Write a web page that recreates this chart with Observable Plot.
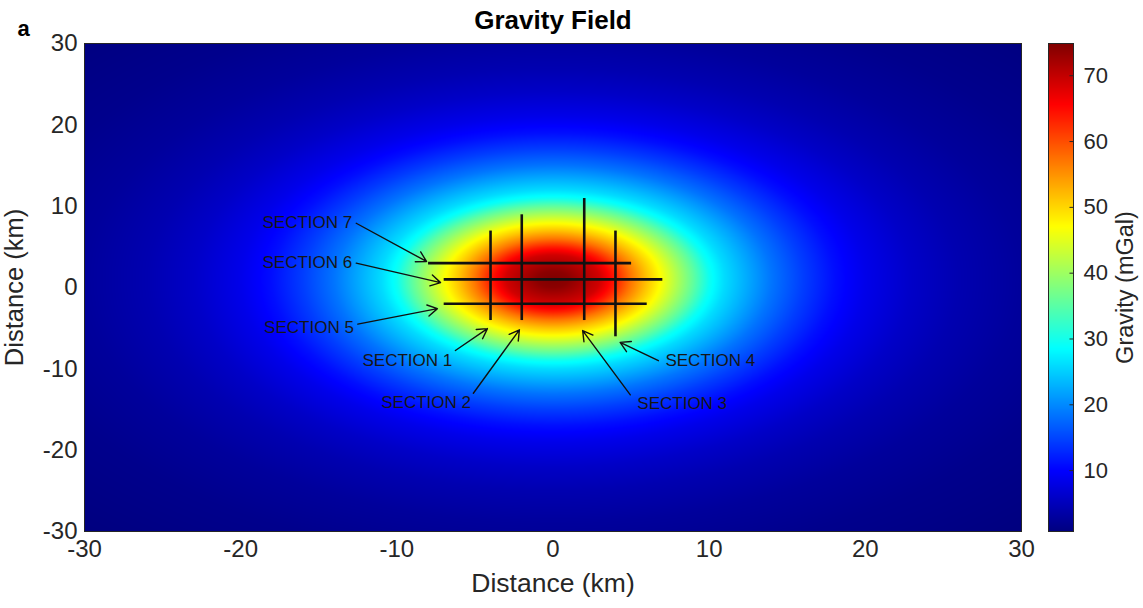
<!DOCTYPE html>
<html>
<head>
<meta charset="utf-8">
<script src="https://cdn.jsdelivr.net/npm/d3@7"></script>
<script src="https://cdn.jsdelivr.net/npm/@observablehq/plot@0.6"></script>
<style>
  body { margin: 0; background: #ffffff; }
  #chart { position: relative; width: 1143px; height: 608px; overflow: hidden; background: #ffffff; }
  #chart svg { position: absolute; top: 0; }
</style>
</head>
<body>
<div id="chart"></div>
<script>
// Radial gravity profile of the anomaly (distance from its centre in km -> mGal)
const radiusKm    = [0, 1, 2, 3, 4, 5, 6, 7, 8, 9, 10, 11, 12, 14, 16, 18, 20, 23, 26, 30, 35, 43];
const gravityMgal = [74.9, 74, 71.5, 69, 63.5, 57, 51.5, 46.5, 41, 35.5, 29.5, 26, 23.5, 18.5, 14.5, 11, 8.5, 6, 4.3, 2.8, 1.7, 0.75];
const anomalyCenter = [0, 1];               // km (x, y)
const gravityRange = [0.75, 74.9];          // colour bar limits, mGal

const distanceTicks = [-30, -20, -10, 0, 10, 20, 30];
const gravityTicks  = [10, 20, 30, 40, 50, 60, 70];

// Survey profiles (km)
const sectionNames = ["SECTION 1", "SECTION 2", "SECTION 3", "SECTION 4", "SECTION 5", "SECTION 6", "SECTION 7"];
const sectionX1 = [-4, -2, 2, 4, -7, -7, -8];
const sectionY1 = [7, 9, 11, 7, -2, 1, 3];
const sectionX2 = [-4, -2, 2, 4, 6, 7, 5];
const sectionY2 = [-4, -4, -4, -6, -2, 1, 3];

// Label anchors and leader arrows for each profile (km)
const labelX   = [-12.2, -11.0, 5.4, 7.2, -18.5, -18.6, -18.6];
const labelY   = [-9.0, -14.1, -14.3, -9.0, -4.9, 3.1, 8.0];
const arrowX1  = [-6.25, -5.1, 4.95, 6.75, -12.5, -12.6, -12.6];
const arrowY1  = [-7.75, -13.0, -13.2, -9.0, -4.5, 3.0, 7.9];
const arrowX2  = [-4.2, -2.15, 1.9, 4.3, -7.4, -7.2, -8.1];
const arrowY2  = [-5.05, -5.2, -5.3, -6.75, -2.6, 0.6, 3.2];

const sections = sectionNames.map((name, i) => ({
  name,
  x1: sectionX1[i], y1: sectionY1[i], x2: sectionX2[i], y2: sectionY2[i],
  lx: labelX[i], ly: labelY[i],
  ax1: arrowX1[i], ay1: arrowY1[i], ax2: arrowX2[i], ay2: arrowY2[i]
}));

// MATLAB-style "jet" colour map
const clamp01 = (v) => Math.max(0, Math.min(1, v));
function jet(t) {
  const r = clamp01(1.5 - Math.abs(4 * t - 3));
  const g = clamp01(1.5 - Math.abs(4 * t - 2));
  const b = clamp01(1.5 - Math.abs(4 * t - 1));
  return `rgb(${Math.round(r * 255)},${Math.round(g * 255)},${Math.round(b * 255)})`;
}

const profile = d3.scaleLinear().domain(radiusKm).range(gravityMgal).clamp(true);
const gravityAt = (x, y) => profile(Math.hypot(x - anomalyCenter[0], y - anomalyCenter[1]));

const font = "'Liberation Sans', Arial, Helvetica, sans-serif";
const ink = "#262626";
const colorScale = { type: "linear", domain: gravityRange, interpolate: jet };

const main = Plot.plot({
  width: 1143,
  height: 608,
  marginLeft: 84,
  marginRight: 122,
  marginTop: 43,
  marginBottom: 77,
  style: { fontFamily: font, fontSize: "24px", color: ink, background: "transparent", overflow: "visible" },
  x: { domain: [-30, 30], ticks: distanceTicks, tickSize: 0, tickPadding: 8, tickFormat: (d) => String(d), label: null },
  y: { domain: [-30, 30], ticks: distanceTicks, tickSize: 0, tickPadding: 7, tickFormat: (d) => String(d), label: null },
  color: colorScale,
  marks: [
    Plot.raster({ fill: gravityAt, x1: -30, y1: -30, x2: 30, y2: 30, pixelSize: 1 }),
    Plot.frame({ stroke: ink, strokeWidth: 1 }),
    Plot.link(sections, { x1: "x1", y1: "y1", x2: "x2", y2: "y2", stroke: "#111111", strokeWidth: 2.6 }),
    Plot.arrow(sections, { x1: "ax1", y1: "ay1", x2: "ax2", y2: "ay2", stroke: "#111111", strokeWidth: 1.4, headLength: 12 }),
    Plot.text(sections, { x: "lx", y: "ly", text: "name", textAnchor: "start", lineAnchor: "middle", fontSize: 17, fill: "#161616" }),
    // title, panel letter and axis labels
    Plot.text(["Gravity Field"], { frameAnchor: "top", dy: -23.3, textAnchor: "middle", lineAnchor: "middle", fontSize: 26, fontWeight: "bold", fill: "#000000" }),
    Plot.text(["a"], { frameAnchor: "top-left", dx: -67, dy: -15, textAnchor: "start", lineAnchor: "middle", fontSize: 22, fontWeight: "bold", fill: "#000000" }),
    Plot.text(["Distance (km)"], { frameAnchor: "bottom", dy: 52.5, textAnchor: "middle", lineAnchor: "middle", fontSize: 26.5, fill: ink }),
    Plot.text(["Distance (km)"], { frameAnchor: "left", dx: -69.5, rotate: -90, textAnchor: "middle", lineAnchor: "middle", fontSize: 25.5, fill: ink })
  ]
});

const colorbar = Plot.plot({
  width: 113,
  height: 608,
  marginLeft: 18,
  marginRight: 70,
  marginTop: 43,
  marginBottom: 77,
  style: { fontFamily: font, fontSize: "22px", color: ink, background: "transparent", overflow: "visible" },
  x: { domain: [0, 1], axis: null },
  y: { domain: gravityRange, ticks: gravityTicks, axis: "right", tickSize: 0, tickPadding: 10, tickFormat: (d) => String(d), label: null },
  color: colorScale,
  marks: [
    Plot.raster({ fill: (x, y) => y, x1: 0, x2: 1, y1: gravityRange[0], y2: gravityRange[1], pixelSize: 1 }),
    Plot.ruleY(gravityTicks, { x1: 0.86, x2: 1, stroke: ink, strokeWidth: 1 }),
    Plot.frame({ stroke: ink, strokeWidth: 1 }),
    Plot.text(["Gravity (mGal)"], { frameAnchor: "right", dx: 52, rotate: -90, textAnchor: "middle", lineAnchor: "middle", fontSize: 23.5, fill: ink })
  ]
});
colorbar.style.left = "1030px";

const chart = document.getElementById("chart");
main.style.left = "0px";
chart.appendChild(main);
chart.appendChild(colorbar);
</script>
</body>
</html>
